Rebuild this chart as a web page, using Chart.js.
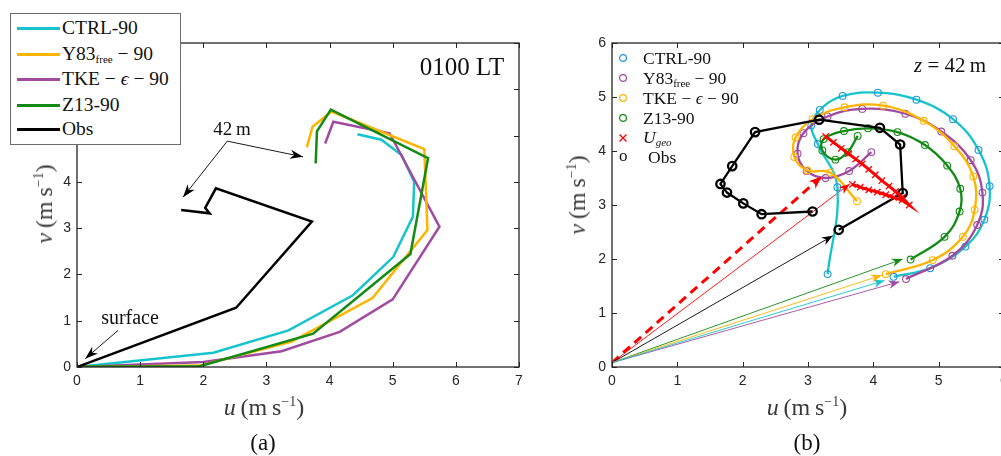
<!DOCTYPE html>
<html><head><meta charset="utf-8">
<script src="https://cdn.jsdelivr.net/npm/chart.js@4.4.1/dist/chart.umd.min.js"></script>
<style>
html,body{margin:0;padding:0;background:#fff;overflow:hidden;width:1001px;height:456px}
#wrap{position:relative;width:1001px;height:456px;overflow:hidden;background:#fff}
canvas{position:absolute;top:0}
.t{position:absolute;font-family:"Liberation Serif","DejaVu Serif",serif;color:#111;white-space:nowrap;line-height:1;transform:translate(-50%,-50%)}
.lab{color:#3a3a3a;font-size:24px}
.leg{position:absolute;font-family:"Liberation Serif","DejaVu Serif",serif;font-size:19.5px;color:#111;white-space:nowrap;line-height:20px;height:20px}
.sw{position:absolute;height:3px;width:43px}
sub.s{font-size:11px;vertical-align:-3px;line-height:0}
sup.s{font-size:14px;vertical-align:9px;line-height:0}
</style></head>
<body><div id="wrap">
<canvas id="ca" width="545" height="456" style="left:0"></canvas>
<canvas id="cb" width="480" height="456" style="left:545px"></canvas>

<!-- panel (a) legend -->
<div style="position:absolute;left:10px;top:13px;width:169px;height:130px;border:1px solid #6b6b6b;background:#fff">
  <div class="sw" style="left:6px;top:12.5px;background:#17c4cc"></div><div class="leg" style="left:51px;top:4px">CTRL-90</div>
  <div class="sw" style="left:6px;top:38.5px;background:#ffb400"></div><div class="leg" style="left:51px;top:30px">Y83<sub class="s">free</sub> − 90</div>
  <div class="sw" style="left:6px;top:63.5px;background:#a04aa0"></div><div class="leg" style="left:51px;top:55px">TKE − <i>ϵ</i> − 90</div>
  <div class="sw" style="left:6px;top:89.5px;background:#138a13"></div><div class="leg" style="left:51px;top:81px">Z13-90</div>
  <div class="sw" style="left:6px;top:113.5px;background:#000"></div><div class="leg" style="left:51px;top:105px">Obs</div>
</div>

<div class="t" style="left:462px;top:66px;font-size:25px">0100 LT</div>
<div class="t" style="left:232px;top:128px;font-size:19px">42&thinsp;m</div>
<div class="t" style="left:130px;top:317px;font-size:20px">surface</div>

<div class="t lab" style="left:264px;top:407px"><i>u</i>&thinsp;(m&thinsp;s<sup class="s">−1</sup>)</div>
<div class="t lab" style="left:44px;top:204px;transform:translate(-50%,-50%) rotate(-90deg)"><i>v</i>&thinsp;(m&thinsp;s<sup class="s">−1</sup>)</div>
<div class="t" style="left:263px;top:442px;font-size:23px">(a)</div>

<!-- panel (b) legend -->
<svg style="position:absolute;left:617px;top:52px" width="12" height="112">
  <circle cx="6" cy="6" r="3.4" fill="none" stroke="#2196d9" stroke-width="1.2"/>
  <circle cx="6" cy="26" r="3.4" fill="none" stroke="#a04aa0" stroke-width="1.2"/>
  <circle cx="6" cy="46" r="3.4" fill="none" stroke="#ffb400" stroke-width="1.2"/>
  <circle cx="6" cy="66" r="3.4" fill="none" stroke="#138a13" stroke-width="1.2"/>
  <path d="M2.5 82.5 L9.5 89.5 M9.5 82.5 L2.5 89.5" stroke="#ff0000" stroke-width="1.3"/>
</svg>
<div class="leg" style="left:619px;top:146px;font-size:17px">o</div>
<div class="leg" style="left:643px;top:48px;font-size:17.5px">CTRL-90</div>
<div class="leg" style="left:643px;top:68px;font-size:17.5px">Y83<sub class="s">free</sub> − 90</div>
<div class="leg" style="left:643px;top:88px;font-size:17.5px">TKE − <i>ϵ</i> − 90</div>
<div class="leg" style="left:643px;top:108px;font-size:17.5px">Z13-90</div>
<div class="leg" style="left:643px;top:127px;font-size:17.5px"><i>U<sub class="s">geo</sub></i></div>
<div class="leg" style="left:648px;top:147px;font-size:17.5px">Obs</div>

<div class="t" style="left:950px;top:65px;font-size:21px"><i>z</i> = 42&thinsp;m</div>
<div class="t lab" style="left:807px;top:407px"><i>u</i>&thinsp;(m&thinsp;s<sup class="s">−1</sup>)</div>
<div class="t lab" style="left:577px;top:195px;transform:translate(-50%,-50%) rotate(-90deg)"><i>v</i>&thinsp;(m&thinsp;s<sup class="s">−1</sup>)</div>
<div class="t" style="left:807px;top:442px;font-size:23px">(b)</div>
</div>

<script>
// ================= DATA =================
// Panel (a): wind profiles at 0100 LT (u, v in m/s)
const ctrlA_u = [0, 2.16, 3.35, 4.37, 5.01, 5.32, 5.34, 5.14, 4.82, 4.44];
const ctrlA_v = [0, 0.31, 0.79, 1.55, 2.38, 3.25, 4.00, 4.58, 4.91, 5.03];
const y83A_u  = [0, 1.95, 3.40, 4.68, 5.55, 5.50, 4.03, 3.73, 3.64];
const y83A_v  = [0, 0.03, 0.55, 1.49, 2.96, 4.71, 5.52, 5.19, 4.75];
const tkeA_u  = [0, 2.00, 3.24, 4.16, 5.00, 5.74, 4.95, 4.06, 3.93];
const tkeA_v  = [0, 0.11, 0.34, 0.76, 1.46, 3.03, 5.05, 5.30, 4.83];
const z13A_u  = [0, 1.93, 3.74, 5.28, 5.56, 4.02, 3.80, 3.78];
const z13A_v  = [0.01, 0.01, 0.72, 2.44, 4.51, 5.56, 5.09, 4.40];
const obsA_u  = [0, 2.52, 3.72, 2.20, 2.03, 2.10, 1.65];
const obsA_v  = [0, 1.28, 3.14, 3.86, 3.44, 3.32, 3.39];
// annotation arrows (tail -> head) in data units
const ann42_tail = [2.38, 4.88];
const ann42_heads_u = [3.58, 1.68];
const ann42_heads_v = [4.54, 3.67];
const annSurf_tail = [0.65, 0.79];
const annSurf_head = [0.13, 0.18];
const ticksA = [0, 1, 2, 3, 4, 5, 6, 7];

// Panel (b): hodographs at z = 42 m
const ctrlB_u = [4.31, 4.87, 5.41, 5.70, 5.78, 5.61, 5.22, 4.66, 4.07, 3.53, 3.18, 3.05, 3.15, 3.45, 3.30];
const ctrlB_v = [1.67, 1.83, 2.23, 2.73, 3.35, 4.02, 4.59, 4.95, 5.08, 5.02, 4.76, 4.47, 4.13, 3.33, 1.72];
const y83B_u  = [4.50, 5.21, 5.59, 5.67, 5.49, 5.04, 4.49, 3.83, 3.30, 2.93, 2.84, 2.98, 3.27, 3.63, 3.97];
const y83B_v  = [1.63, 2.06, 2.63, 3.23, 3.83, 4.36, 4.69, 4.78, 4.64, 4.33, 3.95, 3.63, 3.50, 3.63, 3.98];
const tkeB_u  = [4.19, 4.91, 5.37, 5.55, 5.53, 5.24, 4.77, 4.15, 3.56, 3.07, 2.81, 2.79, 2.99, 3.34, 3.75];
const tkeB_v  = [1.72, 1.98, 2.41, 2.91, 3.53, 4.09, 4.56, 4.84, 4.81, 4.59, 4.25, 3.89, 3.64, 3.60, 3.07];
const z13B_u  = [4.57, 5.09, 5.32, 5.33, 5.13, 4.79, 4.37, 3.92, 3.55, 3.24, 3.22, 3.42, 3.61, 3.76];
const z13B_v  = [1.99, 2.41, 2.88, 3.30, 3.73, 4.11, 4.35, 4.42, 4.37, 4.22, 4.01, 3.84, 3.98, 4.28];
const obsB_u  = [3.47, 4.45, 4.41, 4.10, 3.17, 2.19, 1.84, 1.66, 1.76, 2.01, 2.29, 3.07];
const obsB_v  = [2.54, 3.22, 4.12, 4.43, 4.58, 4.35, 3.72, 3.39, 3.23, 3.03, 2.83, 2.88];
const ugeo_u  = [3.68, 3.80, 3.93, 4.06, 4.19, 4.31, 4.44, 4.55, 4.44, 4.34, 4.24, 4.13, 4.03, 3.93, 3.83, 3.73, 3.62, 3.51, 3.39, 3.27];
const ugeo_v  = [3.38, 3.33, 3.28, 3.24, 3.19, 3.14, 3.09, 3.00, 3.14, 3.25, 3.35, 3.45, 3.56, 3.66, 3.76, 3.85, 3.95, 4.05, 4.16, 4.27];
// arrows from the origin (base) to start points
const arrowBase = [0, 0.08];
const arrowNames = ['CTRL', 'Y83', 'TKE', 'Z13', 'Obs', 'UgeoSfc', 'Ugeo'];
const arrowTip_u = [4.17, 4.40, 4.13, 4.45, 3.38, 3.21, 3.64];
const arrowTip_v = [1.60, 1.58, 1.70, 2.00, 2.43, 3.53, 3.39];
const ticksB = [0, 1, 2, 3, 4, 5, 6];

// ================= HELPERS =================
const pts = (u, v) => u.map((x, i) => ({x: x, y: v[i]}));
const C = {cyan:'#17c4cc', blue:'#2196d9', orange:'#ffb400', purple:'#a04aa0', green:'#138a13', red:'#ff0000', black:'#000'};
const tickFont = {family:'"Liberation Sans", Arial, sans-serif', size:14};

function axis(ticks, w, isX) {
  return {
    type:'linear', min: ticks[0], max: ticks[ticks.length-1],
    grid:{display:false, drawTicks:false}, border:{display:false},
    afterBuildTicks: s => { s.ticks = ticks.map(v => ({value:v})); },
    ticks:{padding:6, color:'#262626', font:tickFont, maxRotation:0, autoSkip:false, callback: v => String(v)},
    afterFit: s => { if (isX) s.height = w; else s.width = w; }
  };
}

const framePlugin = {
  id:'frame',
  afterDraw(chart) {
    const {ctx, chartArea:a, scales} = chart;
    ctx.save();
    ctx.strokeStyle = '#262626'; ctx.lineWidth = 1.3;
    ctx.strokeRect(a.left, a.top, a.right - a.left, a.bottom - a.top);
    ctx.lineWidth = 1;
    ctx.beginPath();
    scales.x.ticks.forEach(t => {
      const x = Math.round(scales.x.getPixelForValue(t.value)) + 0.5;
      ctx.moveTo(x, a.bottom); ctx.lineTo(x, a.bottom - 5);
      ctx.moveTo(x, a.top); ctx.lineTo(x, a.top + 5);
    });
    scales.y.ticks.forEach(t => {
      const y = Math.round(scales.y.getPixelForValue(t.value)) + 0.5;
      ctx.moveTo(a.left, y); ctx.lineTo(a.left + 5, y);
      ctx.moveTo(a.right, y); ctx.lineTo(a.right - 5, y);
    });
    ctx.stroke();
    ctx.restore();
  }
};

const arrowPlugin = {
  id:'arrows',
  afterDatasetsDraw(chart) {
    const ctx = chart.ctx;
    chart.data.datasets.forEach((ds, i) => {
      if (!ds.arrow) return;
      const m = chart.getDatasetMeta(i);
      const p0 = m.data[0], p1 = m.data[m.data.length - 1];
      const dx = p1.x - p0.x, dy = p1.y - p0.y, L = Math.hypot(dx, dy);
      const ux = dx / L, uy = dy / L, nx = -uy, ny = ux;
      const len = ds.arrow.len, wid = ds.arrow.wid;
      ctx.save();
      ctx.fillStyle = ds.borderColor;
      ctx.beginPath();
      ctx.moveTo(p1.x, p1.y);
      ctx.lineTo(p1.x - ux*len + nx*wid, p1.y - uy*len + ny*wid);
      ctx.lineTo(p1.x - ux*len*0.7, p1.y - uy*len*0.7);
      ctx.lineTo(p1.x - ux*len - nx*wid, p1.y - uy*len - ny*wid);
      ctx.closePath();
      ctx.fill();
      ctx.restore();
    });
  }
};

function lineDs(u, v, color, width, order, extra) {
  return Object.assign({data: pts(u, v), borderColor: color, backgroundColor: color, borderWidth: width,
    pointRadius: 0, tension: 0, fill: false, order: order}, extra || {});
}

const common = (pad, ticks) => ({
  responsive:false, animation:false, events:[],
  layout:{padding: pad},
  plugins:{legend:{display:false}, tooltip:{enabled:false}},
  scales:{ x: axis(ticks, 30, true), y: axis(ticks, 40, false) }
});

// ================= PANEL (a) =================
new Chart(document.getElementById('ca'), {
  type:'line',
  data:{datasets:[
    lineDs(obsA_u, obsA_v, C.black, 2.5, 1),
    lineDs(z13A_u, z13A_v, C.green, 2.5, 2),
    lineDs(tkeA_u, tkeA_v, C.purple, 2.5, 4),
    lineDs(y83A_u, y83A_v, C.orange, 2.5, 3),
    lineDs(ctrlA_u, ctrlA_v, C.cyan, 2.5, 5),
    lineDs([ann42_tail[0], ann42_heads_u[0]], [ann42_tail[1], ann42_heads_v[0]], '#000', 0.9, 0, {arrow:{len:13, wid:4.5}}),
    lineDs([ann42_tail[0], ann42_heads_u[1]], [ann42_tail[1], ann42_heads_v[1]], '#000', 0.9, 0, {arrow:{len:13, wid:4.5}}),
    lineDs([annSurf_tail[0], annSurf_head[0]], [annSurf_tail[1], annSurf_head[1]], '#000', 0.9, 0, {arrow:{len:13, wid:4.5}})
  ]},
  options: common({left:37, right:26, top:43, bottom:59}, ticksA),
  plugins:[framePlugin, arrowPlugin]
});

// ================= PANEL (b) =================
function markDs(u, v, line, mark, order) {
  return lineDs(u, v, line, 2.3, order, {tension:0.4, pointRadius:3.4, pointBorderWidth:1.1,
    pointBorderColor: mark, pointBackgroundColor:'rgba(0,0,0,0)', pointStyle:'circle'});
}
const arrowColors = [C.cyan, C.purple, C.orange, C.green, C.black, C.red, C.red];
const arrowDs = arrowNames.map((n, i) => lineDs([arrowBase[0], arrowTip_u[i]], [arrowBase[1], arrowTip_v[i]],
  arrowColors[i], n === 'UgeoSfc' ? 3 : 0.9, 20 + i,
  Object.assign({arrow:{len: n === 'UgeoSfc' ? 13 : 11, wid: n === 'UgeoSfc' ? 5 : 4.2}},
    n === 'UgeoSfc' ? {borderDash:[9, 6]} : {})));

new Chart(document.getElementById('cb'), {
  type:'line',
  data:{datasets:[
    lineDs(ugeo_u, ugeo_v, C.red, 3, 1, {pointRadius:4.5, pointStyle:'crossRot', pointBorderWidth:1.3, pointBorderColor:C.red}),
    lineDs(obsB_u, obsB_v, C.black, 2.3, 2, {pointRadius:4.2, pointBorderWidth:2.3, pointBorderColor:C.black, pointBackgroundColor:'rgba(0,0,0,0)'}),
    markDs(z13B_u, z13B_v, C.green, C.green, 3),
    markDs(tkeB_u, tkeB_v, C.orange, C.orange, 4),
    markDs(y83B_u, y83B_v, C.purple, C.purple, 5),
    markDs(ctrlB_u, ctrlB_v, C.cyan, C.blue, 6)
  ].concat(arrowDs)},
  options: common({left:27, right:21, top:43, bottom:59}, ticksB),
  plugins:[framePlugin, arrowPlugin]
});
</script>
</body></html>
